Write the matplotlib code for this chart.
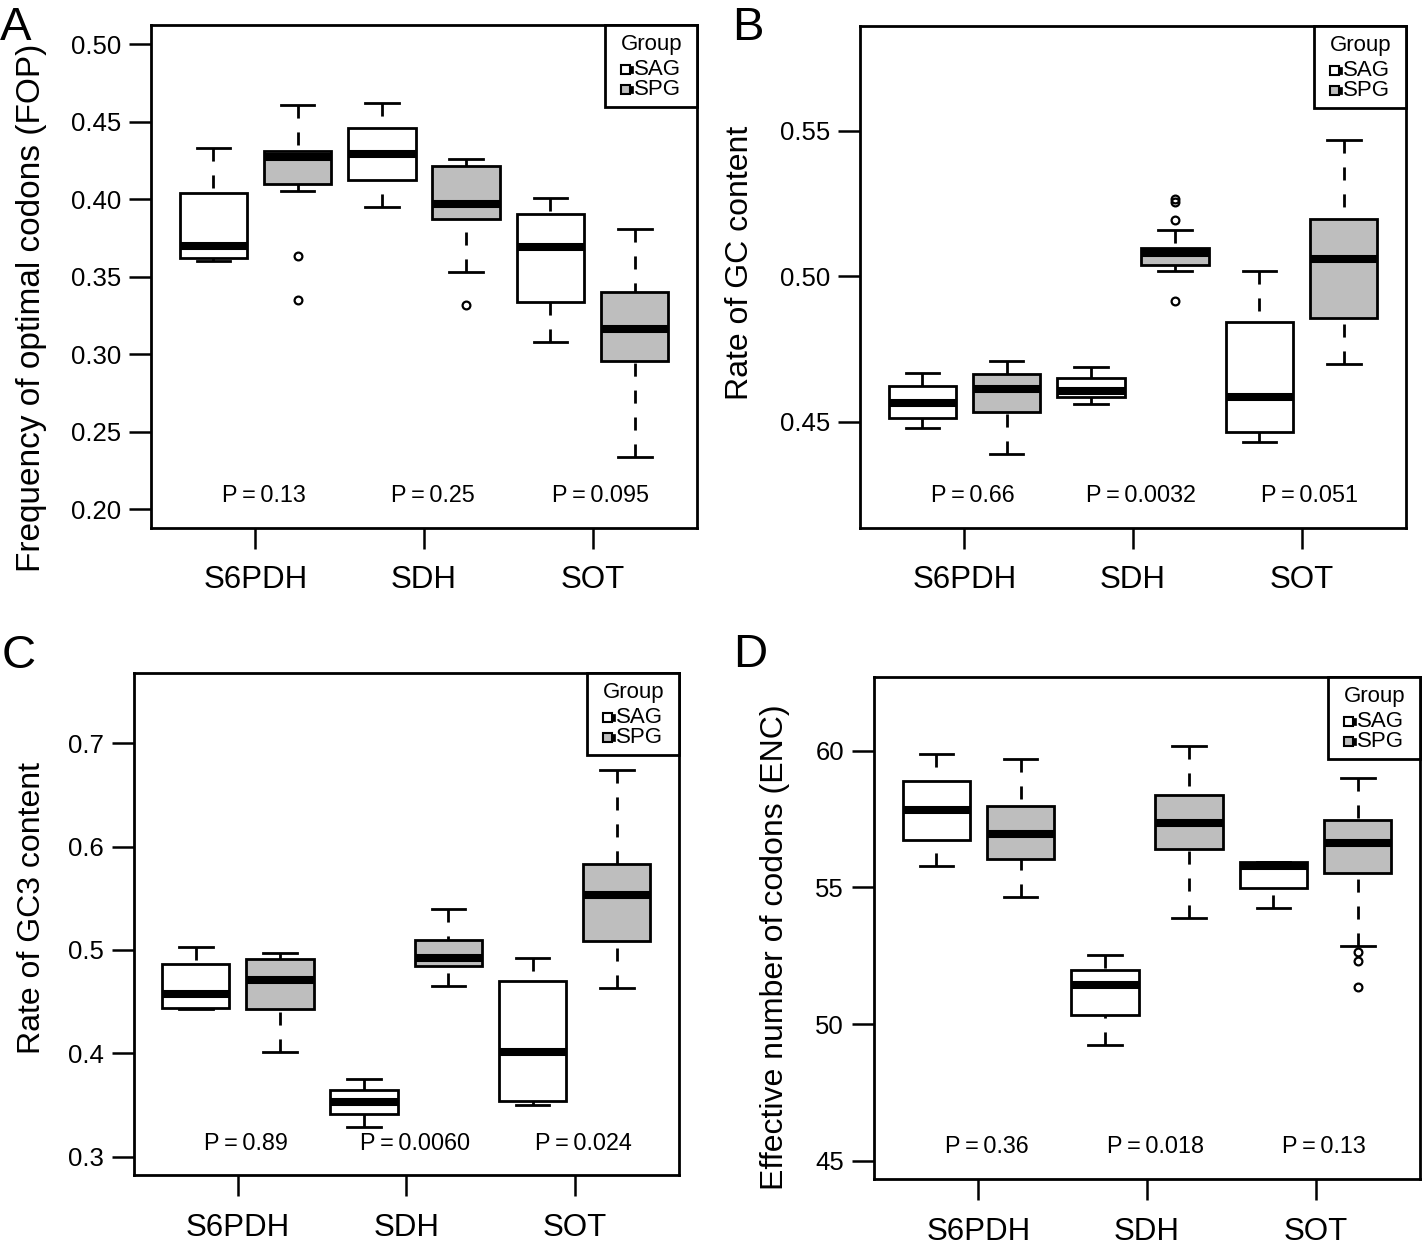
import matplotlib
matplotlib.use('Agg')
import matplotlib.pyplot as plt
import matplotlib.transforms as mtrans
from matplotlib.patches import Rectangle

W, H = 1422, 1244
plt.rcParams['font.family'] = ['Liberation Sans', 'DejaVu Sans']

genes = ['S6PDH', 'SDH', 'SOT']
groups = ['SAG', 'SPG']
group_colors = ['white', '#BEBEBE']

# ---- Panel A: Frequency of optimal codons (FOP); order SAG,SPG per gene
fop_whislo = [0.3600, 0.4052, 0.3946, 0.3529, 0.3075, 0.2337]
fop_q1     = [0.3621, 0.4097, 0.4120, 0.3873, 0.3333, 0.2957]
fop_med    = [0.3697, 0.4273, 0.4292, 0.3966, 0.3692, 0.3163]
fop_q3     = [0.4037, 0.4312, 0.4456, 0.4211, 0.3901, 0.3402]
fop_whishi = [0.4327, 0.4604, 0.4621, 0.4258, 0.4004, 0.3806]
fop_fliers = [[], [0.3634, 0.3348], [], [0.3316], [], []]
fop_p = ['0.13', '0.25', '0.095']

# ---- Panel B: GC content
gc_whislo = [0.4478, 0.4389, 0.4560, 0.5018, 0.4429, 0.4698]
gc_q1     = [0.4512, 0.4532, 0.4584, 0.5037, 0.4464, 0.4857]
gc_med    = [0.4565, 0.4613, 0.4606, 0.5080, 0.4585, 0.5058]
gc_q3     = [0.4624, 0.4664, 0.4649, 0.5098, 0.4843, 0.5197]
gc_whishi = [0.4668, 0.4709, 0.4688, 0.5158, 0.5018, 0.5466]
gc_fliers = [[], [], [], [0.5264, 0.5254, 0.5194, 0.4913], [], []]
gc_p = ['0.66', '0.0032', '0.051']

# ---- Panel C: GC3 content
gc3_whislo = [0.4426, 0.4010, 0.3290, 0.4649, 0.3503, 0.4632]
gc3_q1     = [0.4436, 0.4426, 0.3410, 0.4848, 0.3539, 0.5087]
gc3_med    = [0.4571, 0.4713, 0.3526, 0.4926, 0.4013, 0.5532]
gc3_q3     = [0.4865, 0.4910, 0.3645, 0.5100, 0.4697, 0.5835]
gc3_whishi = [0.5029, 0.4974, 0.3749, 0.5397, 0.4920, 0.6742]
gc3_fliers = [[], [], [], [], [], []]
gc3_p = ['0.89', '0.0060', '0.024']

# ---- Panel D: ENC
enc_whislo = [55.80, 54.64, 49.24, 53.87, 54.24, 52.86]
enc_q1     = [56.75, 56.04, 50.33, 56.41, 54.99, 55.54]
enc_med    = [57.82, 56.96, 51.44, 57.36, 55.78, 56.63]
enc_q3     = [58.90, 57.98, 51.99, 58.39, 55.93, 57.46]
enc_whishi = [59.87, 59.70, 52.53, 60.17, 55.93, 58.99]
enc_fliers = [[], [], [], [], [], [52.62, 52.32, 51.36]]
enc_p = ['0.36', '0.018', '0.13']

panels = [
    dict(letter='A', rect=(151, 25, 697, 527.7), ylim=(0.18794, 0.51226),
         yticks=[0.20, 0.25, 0.30, 0.35, 0.40, 0.45, 0.50], fmt='{:.2f}',
         ylabel='Frequency of optimal codons (FOP)', ylab_x=40, ylab_y=308, ylab_fs=24,
         letter_xy=(0, 40), p_y=502.3,
         data=(fop_whislo, fop_q1, fop_med, fop_q3, fop_whishi, fop_fliers), p=fop_p),
    dict(letter='B', rect=(860, 26, 1406, 527.7), ylim=(0.4136, 0.5859),
         yticks=[0.45, 0.50, 0.55], fmt='{:.2f}',
         ylabel='Rate of GC content', ylab_x=748, ylab_y=263, ylab_fs=23,
         letter_xy=(732, 40), p_y=502.3,
         data=(gc_whislo, gc_q1, gc_med, gc_q3, gc_whishi, gc_fliers), p=gc_p),
    dict(letter='C', rect=(133.5, 672.7, 679, 1175), ylim=(0.2823, 0.7683),
         yticks=[0.3, 0.4, 0.5, 0.6, 0.7], fmt='{:.1f}',
         ylabel='Rate of GC3 content', ylab_x=40, ylab_y=908, ylab_fs=23,
         letter_xy=(2, 668), p_y=1150,
         data=(gc3_whislo, gc3_q1, gc3_med, gc3_q3, gc3_whishi, gc3_fliers), p=gc3_p),
    dict(letter='D', rect=(874, 677.3, 1420, 1179), ylim=(44.34, 62.68),
         yticks=[45, 50, 55, 60], fmt='{:d}',
         ylabel='Effective number of codons (ENC)', ylab_x=783, ylab_y=947, ylab_fs=23,
         letter_xy=(733, 667), p_y=1153.3,
         data=(enc_whislo, enc_q1, enc_med, enc_q3, enc_whishi, enc_fliers), p=enc_p),
]

fig = plt.figure(figsize=(W / 100, H / 100), dpi=100)
FT = fig.transFigure


def fx(x):
    return x / W


def fy(y):
    return 1 - y / H


LW = 2.0
for pn in panels:
    l, t, r, b = pn['rect']
    ax = fig.add_axes([fx(l), fy(b), (r - l) / W, (b - t) / H])
    wl, q1, md, q3, wh, fl = pn['data']
    stats = [dict(whislo=wl[i], q1=q1[i], med=md[i], q3=q3[i],
                  whishi=wh[i], fliers=fl[i]) for i in range(6)]
    res = ax.bxp(stats, positions=list(range(1, 7)), widths=0.8, capwidths=0.4,
                 patch_artist=True, showfliers=True,
                 boxprops=dict(linewidth=LW, edgecolor='black'),
                 medianprops=dict(color='black', linewidth=5.8, solid_capstyle='butt'),
                 whiskerprops=dict(color='black', linewidth=LW, linestyle=(0, (4.7, 5.0))),
                 capprops=dict(color='black', linewidth=LW),
                 flierprops=dict(marker='o', markerfacecolor='none',
                                 markeredgecolor='black', markersize=5.6,
                                 markeredgewidth=1.6, linestyle='none'))
    for i, patch in enumerate(res['boxes']):
        patch.set_facecolor(group_colors[i % 2])
        patch.set_zorder(2)
    for w in res['whiskers']:
        xd, yd = w.get_data()
        w.set_data(list(xd)[::-1], list(yd)[::-1])
    ax.set_xlim(0.26, 6.74)
    ax.set_ylim(*pn['ylim'])
    ax.set_yticks(pn['yticks'])
    ax.set_yticklabels([pn['fmt'].format(v) for v in pn['yticks']], fontsize=18.5)
    ax.set_xticks([1.5, 3.5, 5.5])
    ax.set_xticklabels(genes, fontsize=22.5)
    ax.tick_params(axis='y', length=16, width=1.8, pad=5.5, direction='out')
    ax.tick_params(axis='x', length=15, width=1.8, pad=12, direction='out')
    for s in ax.spines.values():
        s.set_linewidth(LW)
    # P values
    btf = mtrans.blended_transform_factory(ax.transData, FT)
    for k, pv in enumerate(pn['p']):
        ax.text(1.5 + 2 * k + 0.1, fy(pn['p_y']), 'P\u2009=\u2009' + pv,
                transform=btf, ha='center', va='baseline', fontsize=16.8)
    # y label
    fig.text(fx(pn['ylab_x']), fy(pn['ylab_y']), pn['ylabel'], rotation=90,
             rotation_mode='anchor', ha='center', va='baseline', fontsize=pn['ylab_fs'])
    # panel letter
    lx, ly = pn['letter_xy']
    fig.text(fx(lx), fy(ly), pn['letter'], ha='left', va='baseline', fontsize=34)
    # legend (drawn manually, anchored at axes top-right)
    fig.add_artist(Rectangle((fx(r - 92), fy(t + 82)), 92 / W, 82 / H,
                             transform=FT, facecolor='white', edgecolor='black',
                             linewidth=LW, zorder=5))
    fig.text(fx(r - 45), fy(t + 25), 'Group', ha='center', va='baseline',
             fontsize=16, zorder=6)
    for gi, g in enumerate(groups):
        yb = t + 50 + 20 * gi
        fig.add_artist(Rectangle((fx(r - 76), fy(yb - 1)), 9 / W, 9 / H,
                                 transform=FT, facecolor=group_colors[gi],
                                 edgecolor='black', linewidth=1.5, zorder=6))
        fig.add_artist(Rectangle((fx(r - 67), fy(yb - 2)), 3 / W, 7 / H,
                                 transform=FT, facecolor='black',
                                 edgecolor='black', linewidth=0.5, zorder=6))
        fig.text(fx(r - 63), fy(yb), g, ha='left', va='baseline',
                 fontsize=16, zorder=6)

fig.savefig('out.png', dpi=100)
